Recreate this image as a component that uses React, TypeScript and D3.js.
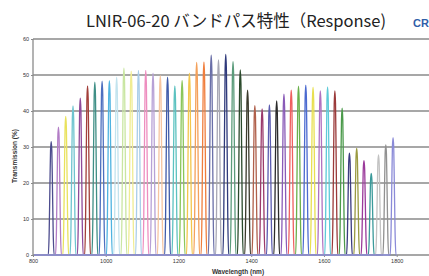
import React, { useEffect, useRef } from 'react';
import * as d3 from 'd3';

const centers = [
  850, 870, 890, 910, 930, 950, 970, 990, 1010, 1030, 1050, 1070,
  1090, 1110, 1130, 1150, 1170, 1190, 1210, 1230, 1250, 1270, 1290, 1310,
  1330, 1350, 1370, 1390, 1410, 1430, 1450, 1470, 1490, 1510, 1530, 1550,
  1570, 1590, 1610, 1630, 1650, 1670, 1690, 1710, 1730, 1750, 1770, 1790,
];

const peaks = [
  31.5, 35.5, 38.5, 41.4, 43.6, 47.0, 48.0, 48.3, 48.4, 49.4, 51.9, 51.1,
  51.3, 51.3, 50.5, 49.8, 49.4, 47.0, 48.5, 50.5, 53.5, 53.6, 55.5, 54.2,
  55.7, 53.7, 51.4, 45.8, 41.5, 40.6, 41.7, 42.8, 44.7, 45.8, 46.9, 47.2,
  46.6, 45.6, 46.7, 45.6, 40.8, 28.3, 29.6, 26.2, 22.7, 27.8, 30.6, 32.6,
];

const colors = [
  '#4d4c8e', '#b27cc6', '#e9e25c', '#6ec4cf', '#8e4a9a', '#a23f3a', '#3f8f86', '#4d6fbf',
  '#4fb3e0', '#c2e3ee', '#c9e6a2', '#f0ec92', '#a9cde9', '#ee8dbf', '#b7a1d6', '#f7c59f',
  '#3f5ba9', '#5cc2c0', '#8bc65b', '#f3c64b', '#f4a15b', '#f07e3d', '#6a6fa8', '#a7a7b4',
  '#2f3a7b', '#5b9c7b', '#2b4a2c', '#3b3a2c', '#b0604b', '#9b3a6b', '#5b5bb0', '#2b2b2b',
  '#8a5bb8', '#ef5f5f', '#6ab04b', '#4b6ad0', '#e8e051', '#b070c0', '#5dcad8', '#9b3a3a',
  '#4b9a4b', '#3b3b80', '#9a9a41', '#9b3a9b', '#3b9a9a', '#c2c2c2', '#919191', '#8b8bd8',
];

const yTicks = [0, 10, 20, 30, 40, 50, 60];
const xTicks = [800, 1000, 1200, 1400, 1600, 1800];

// relative profile of one pass band: [nm offset from centre, fraction of peak]
const bandShape: [number, number][] = [
  [-8, 0], [-5.5, 0.2], [-3.5, 0.6], [-1.8, 0.92], [0, 1],
  [1.8, 0.92], [3.5, 0.6], [5.5, 0.2], [8, 0],
];

const W = 429;
const H = 276;

const App = () => {
  const ref = useRef<SVGSVGElement>(null);

  useEffect(() => {
    if (!ref.current) return;
    const svg = d3.select(ref.current);
    svg.selectAll('*').remove();

    const x = d3.scaleLinear().domain([800, 1800]).range([33, 396.7]);
    const y = d3.scaleLinear().domain([0, 60]).range([255, 39]);
    const right = W;

    // grid
    svg.append('g')
      .selectAll('line')
      .data(yTicks)
      .join('line')
      .attr('x1', x(800))
      .attr('x2', right)
      .attr('y1', d => y(d))
      .attr('y2', d => y(d))
      .attr('stroke', '#8a8a8a')
      .attr('stroke-width', 1.3);

    svg.append('line')
      .attr('x1', x(800)).attr('x2', x(800))
      .attr('y1', y(0)).attr('y2', y(60))
      .attr('stroke', '#8a8a8a')
      .attr('stroke-width', 1.3);

    // axes text
    const yAxis = d3.axisLeft(y).tickValues(yTicks).tickSize(2).tickPadding(2);
    const gy = svg.append('g').attr('transform', `translate(${x(800)},0)`).call(yAxis);
    gy.select('.domain').remove();
    gy.selectAll('line').attr('stroke', '#8a8a8a');
    gy.selectAll('text').style('font-size', '5.5px').style('font-family', 'Liberation Sans, Arial, sans-serif').attr('fill', '#333');

    const xAxis = d3.axisBottom(x).tickValues(xTicks).tickFormat(d3.format('d')).tickSize(2).tickPadding(2);
    const gx = svg.append('g').attr('transform', `translate(0,${y(0)})`).call(xAxis);
    gx.select('.domain').remove();
    gx.selectAll('line').attr('stroke', '#8a8a8a');
    gx.selectAll('text').style('font-size', '5.5px').style('font-family', 'Liberation Sans, Arial, sans-serif').attr('fill', '#333');

    // bands
    const line = d3.line<[number, number]>()
      .x(d => x(d[0]))
      .y(d => y(d[1]))
      .curve(d3.curveMonotoneX);

    centers.forEach((c, i) => {
      const pts: [number, number][] = [[803, 0]];
      bandShape.forEach(([o, f]) => pts.push([c + o, f * peaks[i]]));
      pts.push([1797, 0]);
      svg.append('path')
        .attr('d', line(pts))
        .attr('fill', 'none')
        .attr('stroke', colors[i])
        .attr('stroke-width', 1.3)
        .attr('stroke-linejoin', 'round');
    });

    // titles
    svg.append('text')
      .attr('x', 236)
      .attr('y', 27)
      .attr('text-anchor', 'middle')
      .style('font-family', 'Noto Sans CJK JP, Noto Sans, sans-serif')
      .style('font-size', '16.5px')
      .attr('fill', '#222')
      .text('LNIR-06-20 バンドパス特性（Response)');

    svg.append('text')
      .attr('x', 413)
      .attr('y', 27)
      .style('font-family', 'Liberation Sans, Arial, sans-serif')
      .style('font-size', '11px')
      .style('font-weight', 'bold')
      .attr('fill', '#2f5ea8')
      .text('CR');

    svg.append('text')
      .attr('transform', `translate(17,156) rotate(-90)`)
      .attr('text-anchor', 'middle')
      .style('font-family', 'Liberation Sans, Arial, sans-serif')
      .style('font-size', '6.5px')
      .style('font-weight', 'bold')
      .attr('fill', '#333')
      .text('Transmission (%)');

    svg.append('text')
      .attr('x', 238)
      .attr('y', 274)
      .attr('text-anchor', 'middle')
      .style('font-family', 'Liberation Sans, Arial, sans-serif')
      .style('font-size', '6.5px')
      .style('font-weight', 'bold')
      .attr('fill', '#333')
      .text('Wavelength (nm)');
  }, []);

  return (
    <svg
      ref={ref}
      width={W}
      height={H}
      style={{ position: 'absolute', left: 0, top: 0, background: '#fff' }}
    />
  );
};

export default App;
